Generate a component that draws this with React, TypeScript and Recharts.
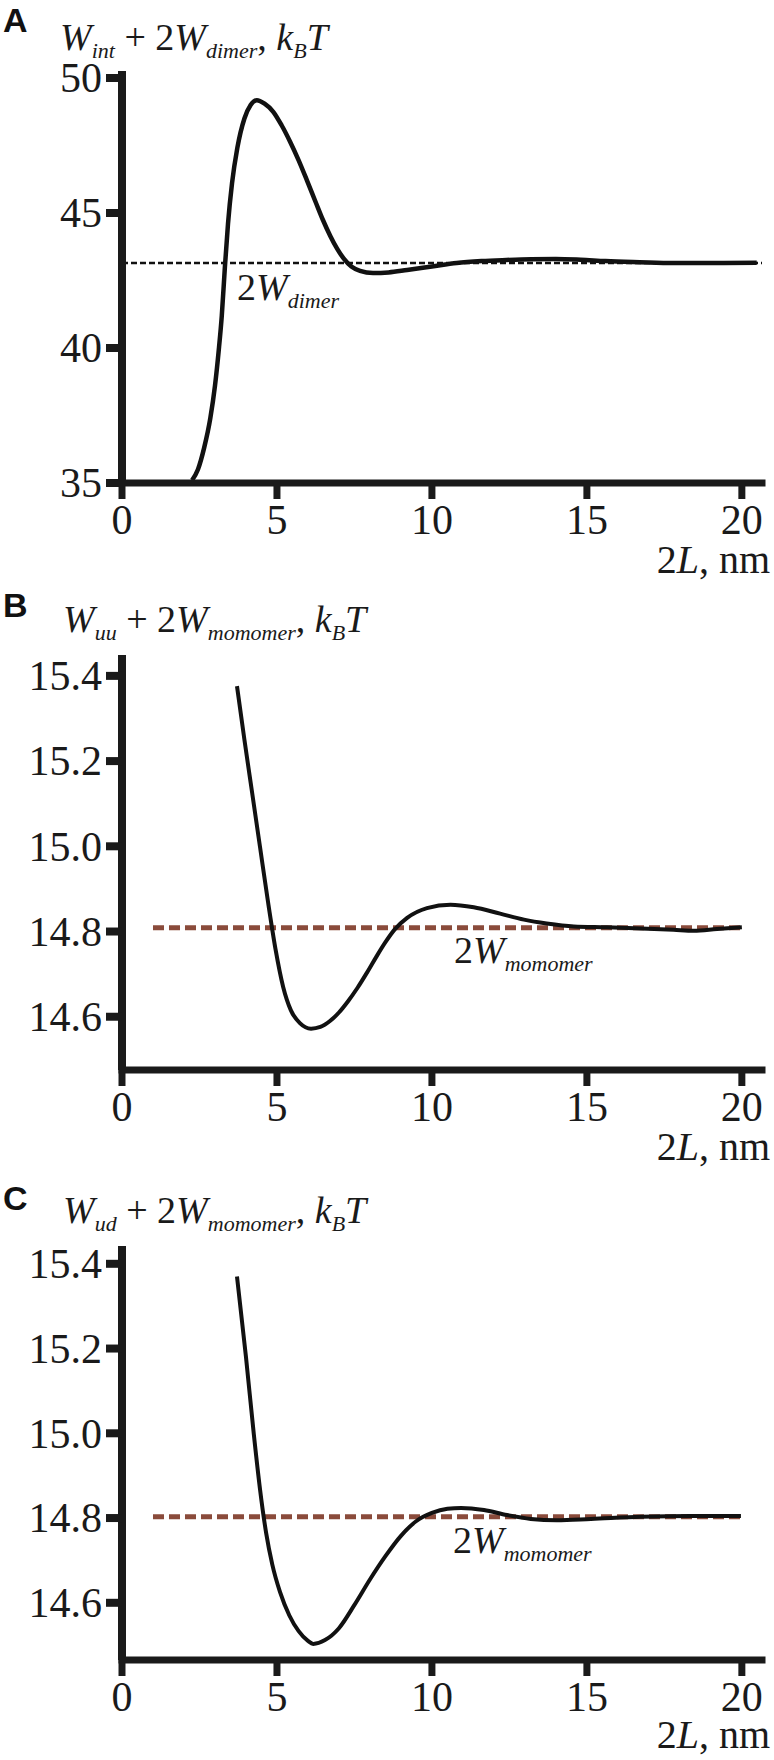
import React from "react";
import { LineChart, Line, XAxis, YAxis, ReferenceLine } from "recharts";

// 2L, nm -> W_int + 2W_dimer
const xA = [2.26, 2.45, 2.65, 2.85, 3.0, 3.12, 3.22, 3.32, 3.42, 3.55, 3.72, 3.95, 4.15, 4.35, 4.6, 4.88, 5.15, 5.42, 5.7, 5.97, 6.25, 6.48, 6.72, 6.94, 7.15, 7.4, 7.68, 8.1, 8.6, 9.2, 10.0, 10.8, 11.6, 12.4, 13.2, 14.0, 14.8, 15.6, 16.7, 17.8, 19.0, 20.48];
const yA = [35.1, 35.5, 36.3, 37.4, 38.6, 39.9, 41.2, 43.0, 44.6, 46.1, 47.4, 48.5, 49.0, 49.18, 49.05, 48.75, 48.25, 47.65, 46.95, 46.2, 45.4, 44.75, 44.15, 43.68, 43.32, 43.02, 42.86, 42.78, 42.8, 42.89, 43.02, 43.15, 43.22, 43.26, 43.29, 43.3, 43.27, 43.22, 43.18, 43.15, 43.15, 43.16];
const dimerLevel = 43.15;

// W_uu + 2W_monomer
const xB = [3.71, 3.95, 4.2, 4.45, 4.7, 4.95, 5.2, 5.45, 5.74, 6.1, 6.4, 6.71, 7.0, 7.3, 7.6, 7.9, 8.2, 8.5, 8.8, 9.2, 9.84, 10.6, 11.35, 12.2, 12.97, 13.7, 14.58, 15.65, 16.74, 17.8, 18.45, 19.2, 20.0];
const yB = [15.376, 15.25, 15.125, 15.0, 14.875, 14.76, 14.67, 14.615, 14.585, 14.572, 14.576, 14.59, 14.61, 14.637, 14.668, 14.703, 14.74, 14.775, 14.805, 14.832, 14.855, 14.863, 14.857, 14.842, 14.828, 14.819, 14.812, 14.81, 14.807, 14.804, 14.802, 14.806, 14.81];
const monomerB = 14.809;

// W_ud + 2W_monomer
const xC = [3.71, 4.0, 4.25, 4.45, 4.65, 4.85, 5.1, 5.4, 5.7, 6.0, 6.17, 6.55, 7.0, 7.5, 8.0, 8.5, 9.0, 9.5, 10.0, 10.5, 10.94, 11.68, 12.42, 13.19, 14.03, 15.13, 16.74, 18.35, 19.97];
const yC = [15.37, 15.18, 15.0, 14.87, 14.765, 14.69, 14.625, 14.57, 14.533, 14.51, 14.503, 14.512, 14.54, 14.595, 14.655, 14.71, 14.758, 14.793, 14.812, 14.822, 14.824, 14.819, 14.807, 14.798, 14.795, 14.798, 14.803, 14.805, 14.805];
const monomerC = 14.803;

const xTicks = [0, 5, 10, 15, 20];
const yTicksA = [35, 40, 45, 50];
const yTicksBC = [14.6, 14.8, 15.0, 15.2, 15.4];

const ink = "#1a1a1a";
const brown = "#8a4b3b";
const serif = "Liberation Serif, Times New Roman, serif";

const toRows = (xs: number[], ys: number[]) => xs.map((x, i) => ({ x, y: ys[i] }));

const XTick = (props: any) => {
  const { x, y, payload } = props;
  return (
    <text x={x} y={y + 35} textAnchor="middle" fill={ink} style={{ fontFamily: serif, fontSize: 42 }}>
      {payload.value}
    </text>
  );
};

const makeYTick = (digits: number) => (props: any) => {
  const { x, y, payload } = props;
  return (
    <text x={x} y={y} dy="0.34em" textAnchor="end" fill={ink} style={{ fontFamily: serif, fontSize: 42 }}>
      {Number(payload.value).toFixed(digits)}
    </text>
  );
};

type PanelProps = {
  top: number;
  height: number;
  margin: { top: number; right: number; bottom: number; left: number };
  rows: { x: number; y: number }[];
  yDomain: [number, number];
  yTicks: number[];
  digits: number;
  level: number;
  levelFrom?: number;
  levelTo?: number;
  dashColor: string;
  dashWidth: number;
  dash: string;
  curveWidth: number;
};

function Panel(p: PanelProps) {
  return (
    <div style={{ position: "absolute", left: 0, top: p.top }}>
      <LineChart width={774} height={p.height} data={p.rows} margin={p.margin}>
        <XAxis
          dataKey="x"
          type="number"
          domain={[0, 20.65]}
          ticks={xTicks}
          height={40}
          tickSize={16}
          tickMargin={0}
          tick={<XTick />}
          axisLine={{ stroke: ink, strokeWidth: 7, strokeLinecap: "square" }}
          tickLine={{ stroke: ink, strokeWidth: 7 }}
          allowDataOverflow
        />
        <YAxis
          type="number"
          domain={p.yDomain}
          ticks={p.yTicks}
          width={80}
          tickSize={16}
          tickMargin={4}
          tick={makeYTick(p.digits)}
          axisLine={{ stroke: ink, strokeWidth: 8 }}
          tickLine={{ stroke: ink, strokeWidth: 8 }}
          allowDataOverflow
        />
        {p.levelFrom !== undefined ? (
          <ReferenceLine
            segment={[
              { x: p.levelFrom, y: p.level },
              { x: p.levelTo, y: p.level },
            ]}
            stroke={p.dashColor}
            strokeWidth={p.dashWidth}
            strokeDasharray={p.dash}
          />
        ) : (
          <ReferenceLine y={p.level} stroke={p.dashColor} strokeWidth={p.dashWidth} strokeDasharray={p.dash} />
        )}
        <Line
          dataKey="y"
          type="monotone"
          stroke="#111"
          strokeWidth={p.curveWidth}
          dot={false}
          activeDot={false}
          isAnimationActive={false}
        />
      </LineChart>
    </div>
  );
}

const sub = (s: string) => (
  <>
    <tspan fontStyle="italic" fontSize={22} dy={8}>{s}</tspan>
    <tspan dy={-8}>{"\u200b"}</tspan>
  </>
);

function Overlay() {
  const t = { fill: ink, style: { whiteSpace: "pre" as const, fontFamily: serif, fontSize: 38 } };
  const letter = { fill: "#111", style: { fontFamily: "Liberation Sans, Arial, sans-serif", fontSize: 34, fontWeight: 700 } };
  const axisName = (y: number) => (
    <text x={770} y={y} textAnchor="end" fill={ink} style={{ whiteSpace: "pre", fontFamily: serif, fontSize: 40 }}>
      2<tspan fontStyle="italic">L</tspan>, nm
    </text>
  );
  const monomerLabel = (x: number, y: number) => (
    <text x={x} y={y} {...t}>
      2<tspan fontStyle="italic">W</tspan>
      {sub("momomer")}
    </text>
  );
  return (
    <svg width={774} height={1760} style={{ position: "absolute", left: 0, top: 0, pointerEvents: "none" }}>
      <text x={3} y={32} {...letter}>A</text>
      <text x={60} y={50} {...t}>
        <tspan fontStyle="italic">W</tspan>
        {sub("int")}
        {" + 2"}
        <tspan fontStyle="italic">W</tspan>
        {sub("dimer")}
        {", "}
        <tspan fontStyle="italic">k</tspan>
        {sub("B")}
        <tspan fontStyle="italic">T</tspan>
      </text>
      <text x={237} y={300} {...t}>
        2<tspan fontStyle="italic">W</tspan>
        {sub("dimer")}
      </text>
      {axisName(573)}

      <text x={3} y={617} {...letter}>B</text>
      <text x={63} y={632} {...t}>
        <tspan fontStyle="italic">W</tspan>
        {sub("uu")}
        {" + 2"}
        <tspan fontStyle="italic">W</tspan>
        {sub("momomer")}
        {", "}
        <tspan fontStyle="italic">k</tspan>
        {sub("B")}
        <tspan fontStyle="italic">T</tspan>
      </text>
      {monomerLabel(454, 963)}
      {axisName(1160)}

      <text x={3} y={1210} {...letter}>C</text>
      <text x={63} y={1223} {...t}>
        <tspan fontStyle="italic">W</tspan>
        {sub("ud")}
        {" + 2"}
        <tspan fontStyle="italic">W</tspan>
        {sub("momomer")}
        {", "}
        <tspan fontStyle="italic">k</tspan>
        {sub("B")}
        <tspan fontStyle="italic">T</tspan>
      </text>
      {monomerLabel(453, 1553)}
      {axisName(1748)}
    </svg>
  );
}

export default function App() {
  return (
    <div style={{ position: "absolute", left: 0, top: 0, width: 774, height: 1760, background: "#fff", overflow: "hidden" }}>
      <Panel
        top={0}
        height={600}
        margin={{ top: 71, right: 12, bottom: 77, left: 42 }}
        rows={toRows(xA, yA)}
        yDomain={[35, 50.26]}
        yTicks={yTicksA}
        digits={0}
        level={dimerLevel}
        dashColor="#111"
        dashWidth={2.5}
        dash="6 3"
        curveWidth={4.5}
      />
      <Panel
        top={600}
        height={580}
        margin={{ top: 55, right: 12, bottom: 70, left: 42 }}
        rows={toRows(xB, yB)}
        yDomain={[14.475, 15.449]}
        yTicks={yTicksBC}
        digits={1}
        level={monomerB}
        levelFrom={1}
        levelTo={20}
        dashColor={brown}
        dashWidth={5}
        dash="11 5"
        curveWidth={4}
      />
      <Panel
        top={1180}
        height={580}
        margin={{ top: 66, right: 12, bottom: 60, left: 42 }}
        rows={toRows(xC, yC)}
        yDomain={[14.465, 15.442]}
        yTicks={yTicksBC}
        digits={1}
        level={monomerC}
        levelFrom={1}
        levelTo={20}
        dashColor={brown}
        dashWidth={5}
        dash="11 5"
        curveWidth={4}
      />
      <Overlay />
    </div>
  );
}
